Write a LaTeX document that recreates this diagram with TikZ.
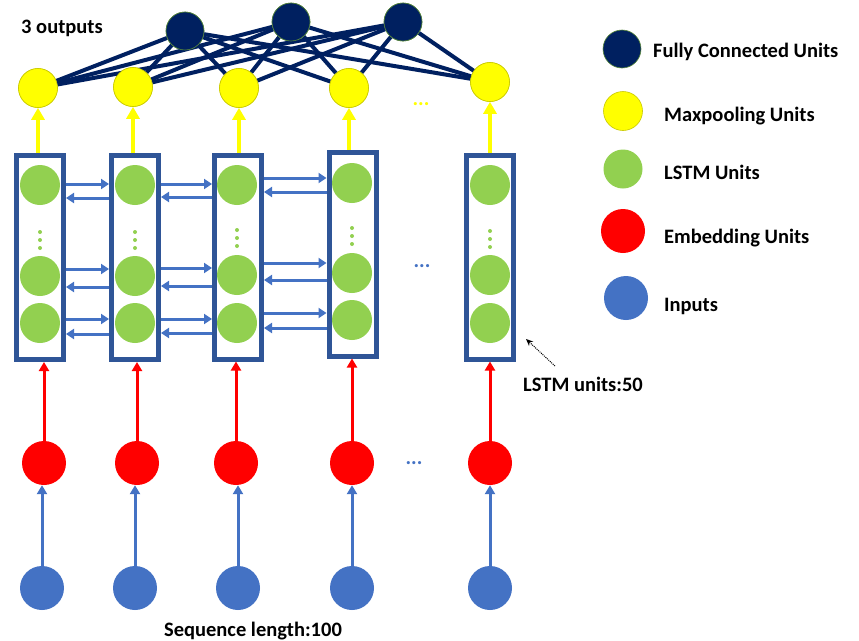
\documentclass[tikz,border=0pt]{standalone}
\usepackage{fontspec}
\setmainfont{Carlito}
\usetikzlibrary{arrows.meta,calc}
\definecolor{navy}{HTML}{002060}
\definecolor{boxblue}{HTML}{2F5597}
\definecolor{lgreen}{HTML}{92D050}
\definecolor{inblue}{HTML}{4472C4}
\definecolor{ylw}{HTML}{FFFF00}
\definecolor{ylwedge}{HTML}{C8C800}
\definecolor{fcedge}{HTML}{5A8A3A}
\definecolor{redc}{HTML}{FF0000}
\begin{document}
\begin{tikzpicture}[x=1pt,y=-1pt,
  fcunit/.style={circle,inner sep=0pt,minimum size=38pt,fill=navy,draw=fcedge,line width=0.6pt},
  mpunit/.style={circle,inner sep=0pt,minimum size=39pt,fill=ylw,draw=ylwedge,line width=0.6pt},
  lstmunit/.style={circle,inner sep=0pt,minimum size=40pt,fill=lgreen},
  embunit/.style={circle,inner sep=0pt,minimum size=44pt,fill=redc},
  inunit/.style={circle,inner sep=0pt,minimum size=44pt,fill=inblue},
  lstmbox/.style={rectangle,draw=boxblue,line width=5pt,minimum width=47pt,minimum height=204pt,inner sep=0pt},
  fcline/.style={draw=navy,line width=4pt},
  harrow/.style={draw=inblue,line width=3pt,-{Triangle[length=8pt,width=10pt]}},
  yarrow/.style={draw=ylw,line width=4.5pt,-{Triangle[length=12pt,width=13pt]}},
  rarrow/.style={draw=redc,line width=3pt,-{Triangle[length=9pt,width=10pt]}},
  barrow/.style={draw=inblue,line width=3pt,-{Triangle[length=9pt,width=10pt]}},
  notearrow/.style={draw=black,line width=1pt,densely dotted,-{Stealth[length=7pt,width=6pt]}},
  lbl/.style={font=\fontsize{20.5}{24}\selectfont\bfseries,inner sep=0pt,text=black},
  dotsy/.style={font=\fontsize{21}{24}\selectfont\bfseries,inner sep=0pt,text=ylw},
  dotsb/.style={font=\fontsize{21}{24}\selectfont\bfseries,inner sep=0pt,text=inblue}]
\useasboundingbox[fill=white] (0,0) rectangle (859,640);

% LSTM boxes
\node[lstmbox] (b1) at (40,257.5) {};
\node[lstmbox] (b2) at (135,257.5) {};
\node[lstmbox] (b3) at (238,257) {};
\node[lstmbox] (b4) at (352.5,254) {};
\node[lstmbox] (b5) at (490,257) {};

% LSTM units and vertical dots
\foreach \i/\x/\ya/\yb/\yc/\yd in {1/40/185/276/323/232, 2/135/185/276/323/232, 3/237/185/275/323/230, 4/352/183/273/320/228, 5/490/185/275/323/231}{
  \node[lstmunit] (g\i-1) at (\x,\ya) {};
  \node[lstmunit] (g\i-2) at (\x,\yb) {};
  \node[lstmunit] (g\i-3) at (\x,\yc) {};
  \fill[lgreen] (\x,\yd) circle (2);
  \fill[lgreen] ($(\x,\yd)+(0,8)$) circle (2);
  \fill[lgreen] ($(\x,\yd)+(0,16)$) circle (2);
}

% bidirectional arrows between boxes
\foreach \a/\b/\ra/\la/\rb/\lb/\rc/\lc in {1/2/184/198/269/287/319/334, 2/3/184/197/268/286/319/333, 3/4/178/192/263/280/313/328}{
  \draw[harrow] (b\a.east |- 0,\ra) -- (b\b.west |- 0,\ra);
  \draw[harrow] (b\b.west |- 0,\la) -- (b\a.east |- 0,\la);
  \draw[harrow] (b\a.east |- 0,\rb) -- (b\b.west |- 0,\rb);
  \draw[harrow] (b\b.west |- 0,\lb) -- (b\a.east |- 0,\lb);
  \draw[harrow] (b\a.east |- 0,\rc) -- (b\b.west |- 0,\rc);
  \draw[harrow] (b\b.west |- 0,\lc) -- (b\a.east |- 0,\lc);
}

% maxpooling units
\node[mpunit] (y1) at (38,88) {};
\node[mpunit] (y2) at (133,87) {};
\node[mpunit] (y3) at (239,88) {};
\node[mpunit] (y4) at (349,88) {};
\node[mpunit] (y5) at (490,82) {};

% fully connected units
\node[fcunit] (f1) at (185,31) {};
\node[fcunit] (f2) at (291,22) {};
\node[fcunit] (f3) at (403,22) {};

\foreach \f in {1,2,3}{
  \foreach \y in {1,...,5}{
    \draw[fcline] (f\f) -- (y\y);
  }
}
% redraw circles on top of lines
\node[fcunit] at (f1) {};
\node[fcunit] at (f2) {};
\node[fcunit] at (f3) {};
\foreach \y in {1,...,5}{ \node[mpunit] at (y\y) {}; }

% yellow arrows
\foreach \i in {1,...,5}{
  \draw[yarrow] (y\i |- b\i.north) -- (y\i.south);
}

% embedding and inputs
\node[embunit] (r1) at (44,463) {};
\node[embunit] (r2) at (137,463) {};
\node[embunit] (r3) at (236,463) {};
\node[embunit] (r4) at (352,463) {};
\node[embunit] (r5) at (490,463) {};
\node[inunit] (i1) at (42,588) {};
\node[inunit] (i2) at (135,588) {};
\node[inunit] (i3) at (238,588) {};
\node[inunit] (i4) at (352,588) {};
\node[inunit] (i5) at (490,588) {};
\foreach \i in {1,...,5}{
  \draw[rarrow] (r\i.north) -- (r\i |- b\i.south);
  \draw[barrow] (i\i.north) -- (i\i |- r\i.south);
}

% ellipses
\node[dotsy,anchor=base] (ey) at (421,105) {...};
\node[dotsb,anchor=base] (eb) at (422,267) {...};
\node[dotsb,anchor=base] (er) at (414,464) {...};

% texts
\node[lbl,anchor=base west] (t3) at (21,33) {3 outputs};
\node[lbl,anchor=base west] (tl) at (523,391) {LSTM units:50};
\node[lbl,anchor=base] (ts) at (253,636) {Sequence length:100};
\coordinate (ns) at (555,366);
\coordinate (ne) at (526,339);
\draw[notearrow] (ns) -- (ne);

% legend
\node[fcunit] (l1) at (622,49) {};
\node[mpunit] (l2) at (623,111) {};
\node[lstmunit,minimum size=39pt] (l3) at (623,169) {};
\node[embunit] (l4) at (623,231) {};
\node[inunit] (l5) at (626,298) {};
\node[lbl,anchor=base west] (lt1) at (653,57) {Fully Connected Units};
\node[lbl,anchor=base west] (lt2) at (664,121) {Maxpooling Units};
\node[lbl,anchor=base west] (lt3) at (664,179) {LSTM Units};
\node[lbl,anchor=base west] (lt4) at (664,243) {Embedding Units};
\node[lbl,anchor=base west] (lt5) at (664,311) {Inputs};
\end{tikzpicture}
\end{document}
